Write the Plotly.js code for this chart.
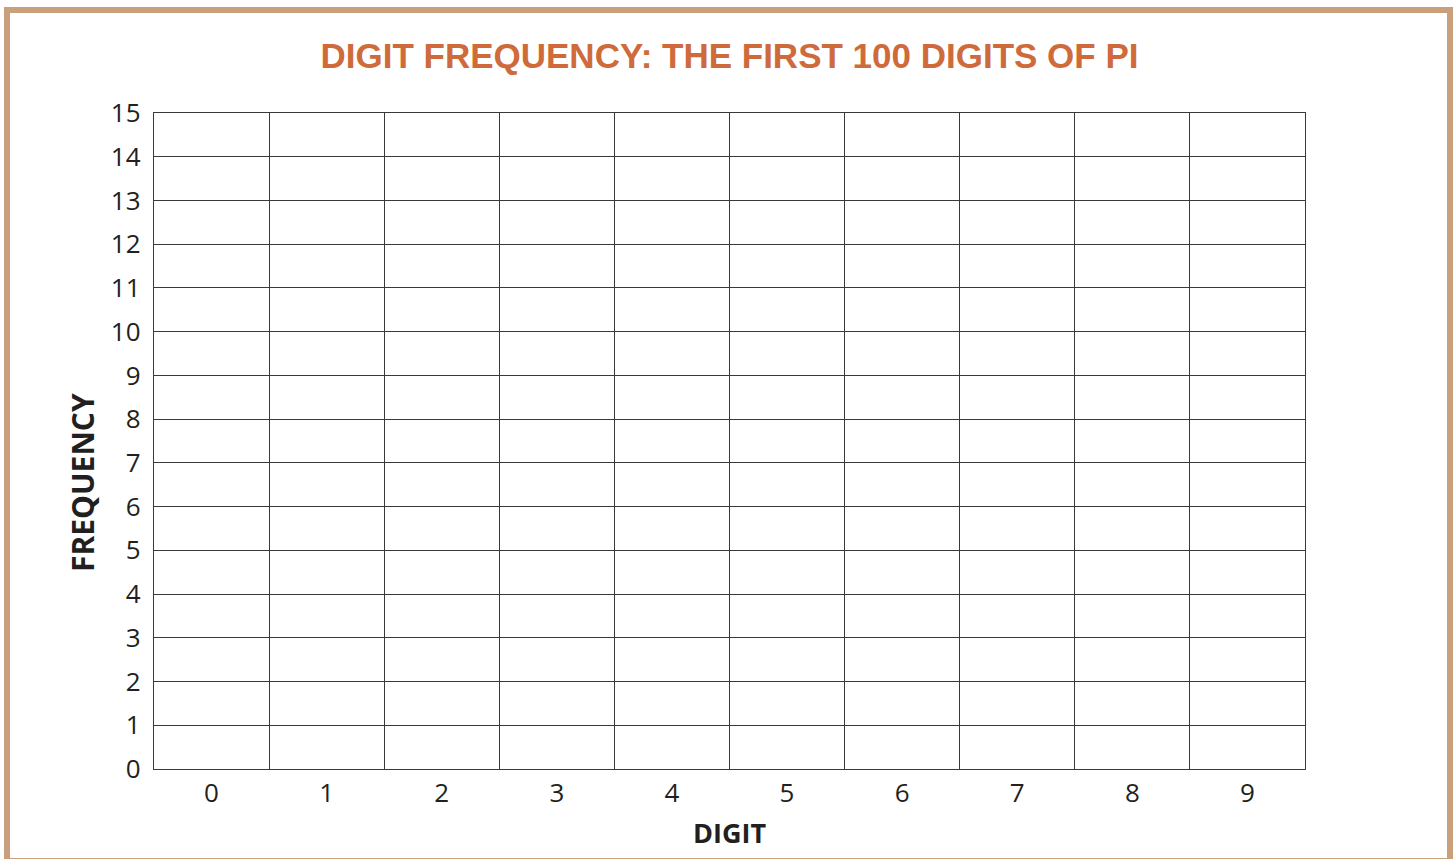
<!DOCTYPE html>
<html>
<head>
<meta charset="utf-8">
<script src="https://cdn.plot.ly/plotly-3.0.1.min.js"></script>
<style>
  html, body { margin: 0; padding: 0; background: #ffffff; }
  #wrap { position: relative; width: 1456px; height: 859px; overflow: hidden; }
  #chart { position: absolute; left: 0; top: 0; width: 1456px; height: 859px; }
  #frame { position: absolute; left: 4px; top: 7px; width: 1437px; height: 845px;
           border: 6px solid #c9a07c; pointer-events: none; }
</style>
</head>
<body>
<div id="wrap">
  <div id="chart"></div>
  <div id="frame"></div>
</div>
<script>
// Data: worksheet chart — digits on x, frequency axis 0..15 (no values filled in)
const digits = [0, 1, 2, 3, 4, 5, 6, 7, 8, 9];
const digitLabels = ['0', '1', '2', '3', '4', '5', '6', '7', '8', '9'];
const frequency = [null, null, null, null, null, null, null, null, null, null];
const freqTicks = [0, 1, 2, 3, 4, 5, 6, 7, 8, 9, 10, 11, 12, 13, 14, 15];

const titleText = 'DIGIT FREQUENCY: THE FIRST 100 DIGITS OF PI';
const xTitle = 'DIGIT';
const yTitle = 'FREQUENCY';

const gridColor = '#3a3a3a';
const tickFont = { family: 'Open Sans, sans-serif', size: 26, color: '#231f20' };

const traces = [{
  type: 'bar',
  x: digits,
  y: frequency,
  marker: { color: '#cf6a3b' },
  hoverinfo: 'skip',
  showlegend: false
}];

const layout = {
  width: 1456,
  height: 859,
  paper_bgcolor: '#ffffff',
  plot_bgcolor: '#ffffff',
  margin: { l: 154, r: 151, t: 113, b: 90, pad: 0 },
  showlegend: false,
  title: {
    text: titleText,
    font: { family: 'Liberation Sans, Arial, sans-serif', size: 35, color: '#cf6a3b', weight: 700 },
    xref: 'paper', x: 0.5, xanchor: 'center',
    yref: 'container', y: 1 - 56 / 859, yanchor: 'middle'
  },
  xaxis: {
    range: [digits[0] - 0.5, digits[digits.length - 1] + 0.5],
    tickmode: 'array',
    tickvals: digits,
    ticktext: digitLabels,
    ticks: '',
    ticklabelstandoff: 1,
    tickfont: tickFont,
    showgrid: false,
    zeroline: false,
    showline: true, linecolor: gridColor, linewidth: 1.2, mirror: true,
    minor: { tick0: 0.5, dtick: 1, showgrid: true, gridcolor: gridColor, gridwidth: 1, ticks: '' },
    title: {
      text: xTitle,
      font: { family: 'Open Sans, sans-serif', size: 27, color: '#231f20', weight: 700 },
      standoff: 14
    },
    fixedrange: true
  },
  yaxis: {
    range: [freqTicks[0], freqTicks[freqTicks.length - 1]],
    tickmode: 'array',
    tickvals: freqTicks,
    ticktext: freqTicks.map(String),
    ticks: '',
    ticklabelstandoff: 7,
    tickfont: tickFont,
    showgrid: true, gridcolor: gridColor, gridwidth: 1,
    zeroline: false,
    showline: true, linecolor: gridColor, linewidth: 1.2, mirror: true,
    fixedrange: true
  },
  annotations: [{
    text: '<b>' + yTitle + '</b>',
    xref: 'paper', yref: 'paper',
    x: (83 - 154) / 1151, y: (769 - 483) / 656,
    xanchor: 'center', yanchor: 'middle',
    textangle: -90,
    showarrow: false,
    font: { family: 'Open Sans, sans-serif', size: 30, color: '#231f20' }
  }]
};

Plotly.newPlot('chart', traces, layout, { displayModeBar: false, staticPlot: true });
</script>
</body>
</html>
